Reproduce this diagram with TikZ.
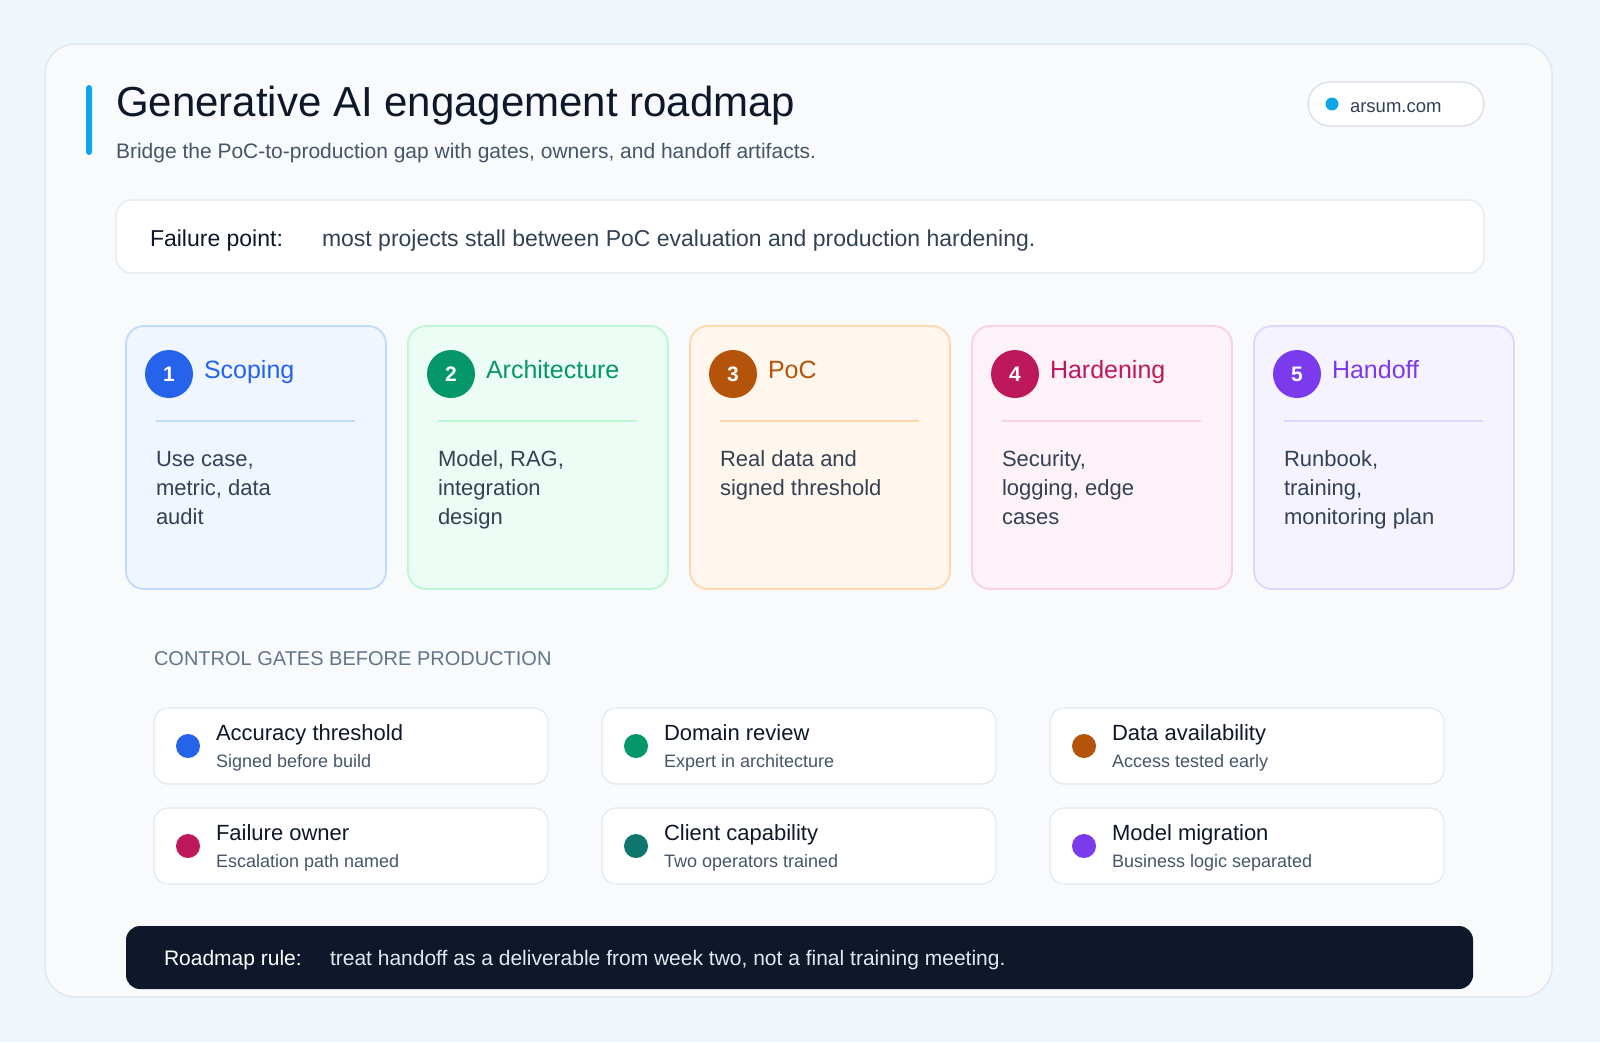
\documentclass[tikz,border=0pt]{standalone}
\usepackage{fontspec}
\setmainfont{Liberation Sans}
\newcommand{\fsz}[1]{\fontsize{#1}{#1}\selectfont}
\definecolor{pagebg}{HTML}{EFF6FC}
\definecolor{cardbg}{HTML}{F8FAFC}
\definecolor{cardln}{HTML}{E2E8F0}
\definecolor{ink}{HTML}{0F172A}
\definecolor{body}{HTML}{334155}
\definecolor{muted}{HTML}{475569}
\definecolor{heading}{HTML}{64748B}
\definecolor{sky}{HTML}{0EA5E9}
\definecolor{pillln}{HTML}{D5DCE6}
\definecolor{rulebody}{HTML}{E2E8F0}
% stage colours
\definecolor{stc1}{HTML}{2563EB}\definecolor{stf1}{HTML}{EFF6FF}\definecolor{stb1}{HTML}{BFDBFE}
\definecolor{stc2}{HTML}{059669}\definecolor{stf2}{HTML}{ECFDF5}\definecolor{stb2}{HTML}{BBF7D0}
\definecolor{stc3}{HTML}{B45309}\definecolor{stf3}{HTML}{FFF7ED}\definecolor{stb3}{HTML}{FED7AA}
\definecolor{stc4}{HTML}{BE185D}\definecolor{stf4}{HTML}{FDF2F8}\definecolor{stb4}{HTML}{FBCFE8}
\definecolor{stc5}{HTML}{7C3AED}\definecolor{stf5}{HTML}{F5F3FF}\definecolor{stb5}{HTML}{DDD6FE}
% gate dots
\definecolor{gd1}{HTML}{2563EB}
\definecolor{gd2}{HTML}{059669}
\definecolor{gd3}{HTML}{B45309}
\definecolor{gd4}{HTML}{BE185D}
\definecolor{gd5}{HTML}{0F766E}
\definecolor{gd6}{HTML}{7C3AED}
\begin{document}
\begin{tikzpicture}[x=1pt,y=-1pt,
  txt/.style={anchor=base west, inner sep=0pt, outer sep=0pt},
  box/.style={anchor=north west, inner sep=0pt, outer sep=0pt},
  stagecard/.style={box, rounded corners=18pt, line width=1.8pt, minimum width=260pt, minimum height=263pt},
  gatebox/.style={box, rounded corners=14pt, line width=1.2pt, draw=cardln, fill=white, minimum width=394pt, minimum height=76pt},
  numdot/.style={circle, inner sep=0pt, minimum size=48pt, text=white, font=\fsz{21}\bfseries},
  gatedot/.style={circle, inner sep=0pt, minimum size=24pt}
]
\useasboundingbox (0,0) rectangle (1600,1042);
\fill[pagebg] (0,0) rectangle (1600,1042);

% main card
\node[box, rounded corners=30pt, fill=cardbg, draw=cardln, line width=1.5pt,
  minimum width=1507pt, minimum height=953pt] (main) at (45,44) {};

% header
\node[box, fill=sky, rounded corners=3pt, minimum width=6pt, minimum height=70pt] (accent) at (86,85) {};
\node[txt, text=ink, font=\fsz{42}] (title) at (116,116) {Generative AI engagement roadmap};
\node[txt, text=muted, font=\fsz{21}] (subtitle) at (116,158) {Bridge the PoC-to-production gap with gates, owners, and handoff artifacts.};

% pill
\node[box, fill=white, draw=pillln, line width=1.2pt, rounded corners=22pt,
  minimum width=176pt, minimum height=44pt] (pill) at (1308,82) {};
\node[gatedot, fill=sky, minimum size=13pt] (pilldot) at (1332,104) {};
\node[txt, text=body, font=\fsz{18.5}] (pilltext) at (1350,112) {arsum.com};

% failure point
\node[box, fill=white, draw=cardln, line width=1.2pt, rounded corners=16pt,
  minimum width=1368pt, minimum height=73pt] (fail) at (116,200) {};
\node[txt, text=ink, font=\fsz{23}] (faillabel) at (150,246) {Failure point:};
\node[txt, text=body, font=\fsz{23}] (failtext) at (322,246) {most projects stall between PoC evaluation and production hardening.};

% stage cards
\foreach \i/\ttl/\la/\lb/\lc in {
  1/Scoping/{Use case,}/{metric, data}/audit,
  2/Architecture/{Model, RAG,}/integration/design,
  3/PoC/Real data and/signed threshold/{},
  4/Hardening/{Security,}/{logging, edge}/cases,
  5/Handoff/{Runbook,}/{training,}/monitoring plan}{
  \pgfmathsetmacro\xl{126+282*(\i-1)}
  \node[stagecard, fill=stf\i, draw=stb\i] (stage\i) at (\xl,326) {};
  \node[numdot, fill=stc\i] (num\i) at (\xl+43,374) {\i};
  \node[txt, text=stc\i, font=\fsz{25}] (stitle\i) at (\xl+78,378) {\ttl};
  \draw[stb\i, line width=2pt] (\xl+30,421) -- (\xl+229,421);
  \node[txt, text=body, font=\fsz{22}] (sla\i) at (\xl+30,466) {\la};
  \node[txt, text=body, font=\fsz{22}] (slb\i) at (\xl+30,495) {\lb};
  \node[txt, text=body, font=\fsz{22}] (slc\i) at (\xl+30,524) {\lc};
}

% control gates
\node[txt, text=heading, font=\fsz{20}] (gateshead) at (154,665) {CONTROL GATES BEFORE PRODUCTION};
\foreach \i/\cx/\ry/\gt/\gs in {
  1/0/0/Accuracy threshold/Signed before build,
  2/1/0/Domain review/Expert in architecture,
  3/2/0/Data availability/Access tested early,
  4/0/1/Failure owner/Escalation path named,
  5/1/1/Client capability/Two operators trained,
  6/2/1/Model migration/Business logic separated}{
  \pgfmathsetmacro\gx{154+448*\cx}
  \pgfmathsetmacro\gy{708+100*\ry}
  \node[gatebox] (gate\i) at (\gx,\gy) {};
  \node[gatedot, fill=gd\i] (gdot\i) at (\gx+34,\gy+38) {};
  \node[txt, text=ink, font=\fsz{22}] (gtitle\i) at (\gx+62,\gy+32) {\gt};
  \node[txt, text=muted, font=\fsz{18}] (gsub\i) at (\gx+62,\gy+59) {\gs};
}

% roadmap rule bar
\node[box, fill=ink, rounded corners=14pt, minimum width=1347pt, minimum height=63pt] (rule) at (126,926) {};
\node[txt, text=white, font=\fsz{21}] (rulelabel) at (164,965) {Roadmap rule:};
\node[txt, text=rulebody, font=\fsz{21}] (ruletext) at (330,965) {treat handoff as a deliverable from week two, not a final training meeting.};
\end{tikzpicture}
\end{document}
